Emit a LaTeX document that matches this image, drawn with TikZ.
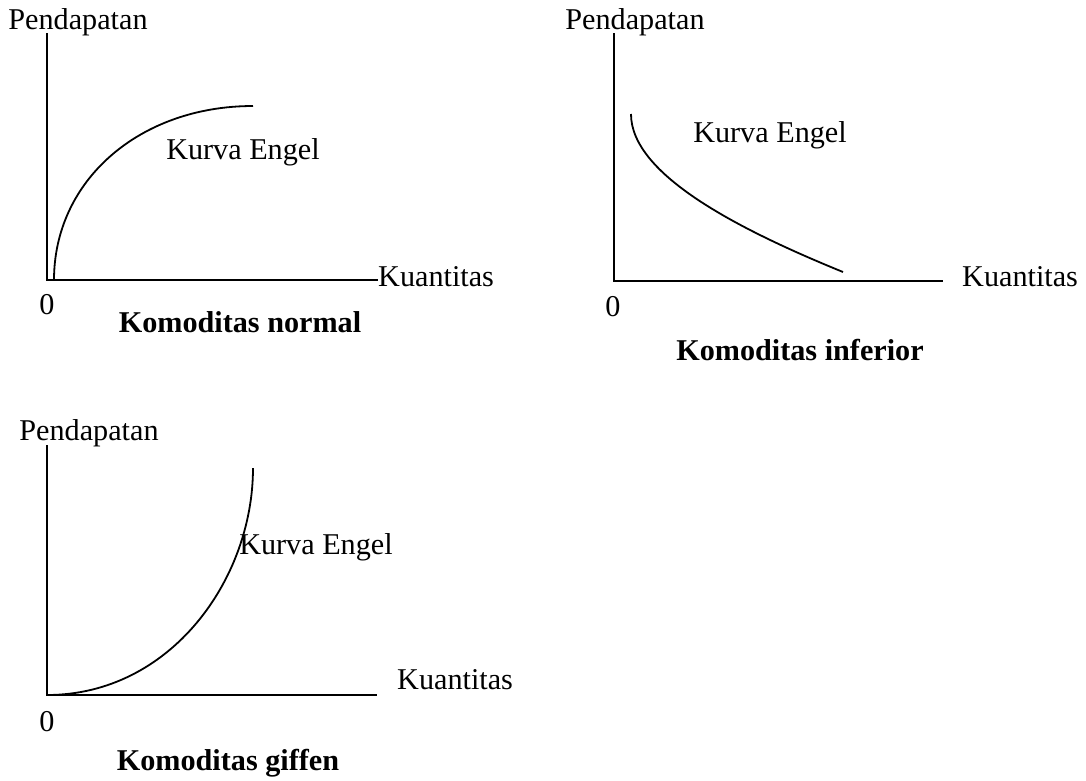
\documentclass[tikz,border=0pt]{standalone}
\usepackage{fontspec}
\setmainfont{Liberation Serif}
\begin{document}
\begin{tikzpicture}[x=1pt,y=-1pt,
  lbl/.style={inner sep=0pt,font=\fontsize{30.2}{33}\selectfont},
  ttl/.style={inner sep=0pt,font=\fontsize{30.2}{33}\selectfont\bfseries},
  axis/.style={line width=2.2pt},
  curve/.style={line width=1.8pt}]
\useasboundingbox (0,0) rectangle (1086,780);
% Panel 1: normal
\coordinate (o1) at (47,280);
\coordinate (y1) at (47,33);
\coordinate (x1) at (378,280);
\draw[axis] (y1) -- (o1) -- (x1);
\node[lbl,anchor=west] (k1) at (378,277) {Kuantitas};
\node[lbl] (p1) at (78,22) {Pendapatan};
\node[lbl] (z1) at (47,305) {0};
\node[lbl] (e1) at (243,152) {Kurva Engel};
\node[ttl] (t1) at (240,322) {Komoditas normal};
\coordinate (c1a) at (54,280);
\coordinate (c1b) at (253,106);
\draw[curve] (c1a) .. controls (54,180) and (140,106) .. (c1b);
% Panel 2: inferior
\coordinate (o2) at (614,281);
\coordinate (y2) at (614,33);
\coordinate (x2) at (943,281);
\draw[axis] (y2) -- (o2) -- (x2);
\node[lbl,anchor=west] (k2) at (962,277) {Kuantitas};
\node[lbl] (p2) at (635,22) {Pendapatan};
\node[lbl] (z2) at (613,307) {0};
\node[lbl] (e2) at (770,135) {Kurva Engel};
\node[ttl] (t2) at (800,350) {Komoditas inferior};
\coordinate (c2a) at (631,114);
\coordinate (c2b) at (843,272);
\draw[curve] (c2a) .. controls (631,175) and (740,230) .. (c2b);
% Panel 3: giffen
\coordinate (o3) at (47,695);
\coordinate (y3) at (47,445);
\coordinate (x3) at (377,695);
\draw[axis] (y3) -- (o3) -- (x3);
\node[lbl,anchor=west] (k3) at (397,680) {Kuantitas};
\node[lbl] (p3) at (89,433) {Pendapatan};
\node[lbl] (z3) at (47,722) {0};
\node[lbl] (e3) at (316,547) {Kurva Engel};
\node[ttl] (t3) at (228,763) {Komoditas giffen};
\coordinate (c3b) at (253,468);
\draw[curve] (o3) .. controls (170,695) and (253,580) .. (c3b);
\end{tikzpicture}
\end{document}
